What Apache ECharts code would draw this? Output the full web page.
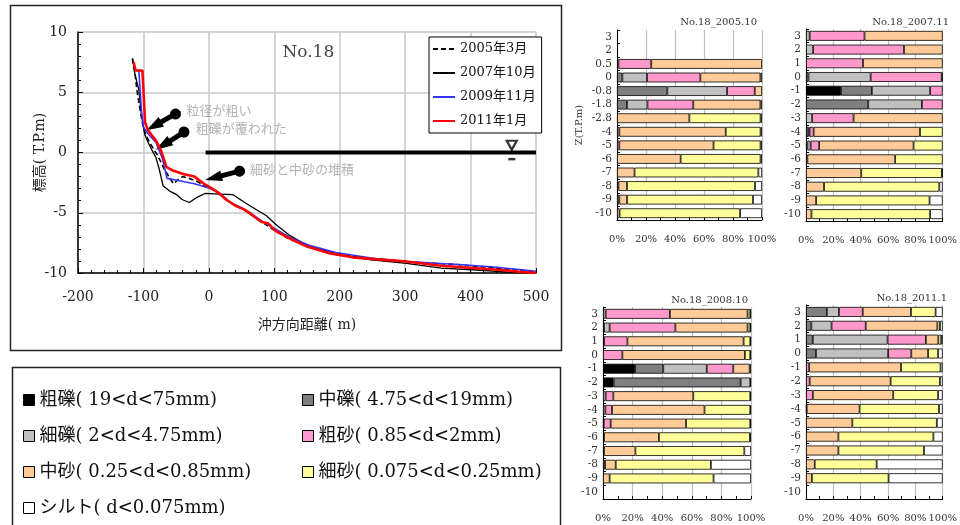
<!DOCTYPE html>
<html><head><meta charset="utf-8">
<script src="https://cdn.jsdelivr.net/npm/echarts@6/dist/echarts.min.js"></script>
<style>html,body{margin:0;padding:0;background:#fff}#c{width:960px;height:525px}</style>
</head><body><div id="c"></div>
<script>
const FONT = "'DejaVu Serif','Liberation Serif','Noto Sans CJK JP',serif";

// ---- Beach profile (No.18) ----
const profileNames = ['2005年3月', '2007年10月', '2009年11月', '2011年1月'];
const profile2005_03 = [[-117,7.8],[-113,6.6],[-110,5.2],[-105,3.5],[-100,2.0],[-95,1.3],[-88,0.6],[-80,-0.1],[-75,-0.6],[-68,-1.4],[-60,-2.1],[-54,-2.6],[-48,-2.3],[-40,-2.0],[-30,-2.15],[-18,-2.4],[-5,-2.8],[5,-3.05],[15,-3.4],[25,-3.85],[40,-4.4],[55,-4.8],[70,-5.35],[85,-5.9],[100,-6.45],[115,-6.95],[130,-7.35],[150,-7.75],[170,-8.05],[190,-8.3],[210,-8.5],[240,-8.75],[270,-8.9],[300,-9.05],[340,-9.2],[380,-9.3],[420,-9.5],[460,-9.7],[500,-9.9]];
const profile2007_10 = [[-116.5,7.8],[-113,6.5],[-107,5.2],[-103,3.1],[-98,1.5],[-93,0.85],[-87,0.2],[-81,-0.4],[-76,-1.35],[-70,-2.75],[-60,-3.2],[-49,-3.5],[-41,-3.9],[-30,-4.15],[-19,-3.75],[-6,-3.4],[16,-3.45],[37,-3.5],[59,-4.3],[88,-5.25],[102,-5.95],[124,-6.9],[150,-7.7],[194,-8.45],[248,-8.9],[302,-9.2],[355,-9.6],[409,-9.75],[463,-9.95],[500,-10]];
const profile2009_11 = [[-107,6.8],[-103,3.5],[-100,2.1],[-92,1.5],[-81,0.85],[-71,-0.5],[-64,-2.15],[-49,-2.3],[-22,-2.6],[0,-2.95],[16,-3.35],[32,-4.1],[59,-4.85],[80,-5.65],[97,-6.2],[124,-7.05],[156,-7.75],[194,-8.3],[248,-8.75],[302,-9.05],[382,-9.3],[436,-9.5],[500,-9.85]];
const profile2011_01 = [[-115,7.5],[-112,7.5],[-112,6.8],[-101.5,6.8],[-97.5,2.5],[-93,1.85],[-81,1.0],[-73,0.15],[-65,-1.2],[-55,-1.5],[-38,-1.8],[-22,-2.0],[-6,-2.65],[5,-3.0],[15,-3.35],[26,-3.9],[40,-4.4],[53,-4.7],[64,-5.1],[80,-5.75],[91,-5.9],[102,-6.5],[124,-7.15],[150,-7.8],[183,-8.35],[220,-8.7],[253,-8.85],[302,-9.05],[355,-9.4],[409,-9.6],[447,-9.75],[474,-9.9],[500,-10]];
const waterLevel = [[-5,0],[500,0]];
const waterMark = [[463,0.6]];
const waterMarkBar = [[463,-0.55]];
const stationLabel = ['No.18'];
const stationPos = [[152,8.3]];
const noteTexts = ['粒径が粗い', '粗礫が覆われた', '細砂と中砂の堆積'];
const notePos = [[-34,3.5],[-20,2.0],[63,-1.35]];
const arrowFrom = [[-51,3.2],[-38,1.7],[47,-1.55]];
const arrowTo = [[-84,2.2],[-70,0.6],[7,-2.1]];

// ---- Grain size composition (%) ----
const grainNames = ['粗礫','中礫','細礫','粗砂','中砂','細砂','シルト'];
const grainLabels = ['粗礫( 19<d<75mm)','中礫( 4.75<d<19mm)','細礫( 2<d<4.75mm)','粗砂( 0.85<d<2mm)','中砂( 0.25<d<0.85mm)','細砂( 0.075<d<0.25mm)','シルト( d<0.075mm)'];
const depths2005 = ['3','2','0.5','0','-0.8','-1.8','-2.8','-4','-5','-6','-7','-8','-9','-10'];
const depthsOther = ['3','2','1','0','-1','-2','-3','-4','-5','-6','-7','-8','-9','-10'];
// each row: [粗礫, 中礫, 細礫, 粗砂, 中砂, 細砂, シルト]
const grain2005_10 = [
  [0,0,0,0,0,0,0],
  [0,0,0,0,0,0,0],
  [0,1,0,22.6,76.4,0,0],
  [0,3.7,17,36.8,41.4,1.1,0],
  [0,34.7,41.2,19.1,5,0,0],
  [0,6.9,14.1,31.6,46.3,1.1,0],
  [0,0,0,0,49.9,49.1,1],
  [0,0,0,1.6,73.4,24,1],
  [0,0,0,1.6,65,32.4,1],
  [0,0,0,0,43.9,55.1,1],
  [0,0,0,0,12.1,85.4,2.5],
  [0,1,0,0,5.9,88.3,4.8],
  [0,1.6,0,0,5.3,86.9,6.2],
  [0,0,0,0,1.8,83.1,15.1]
];
const grain2007_11 = [
  [0,0,2.7,40.1,57.2,0,0],
  [0,0,5.2,66.5,28.3,0,0],
  [0,0,0,41.7,58.3,0,0],
  [0,1.8,45.5,52,0.7,0,0],
  [25.6,22.6,42.6,9.2,0,0,0],
  [0,45.5,39.3,15.2,0,0,0],
  [0,0,4.5,30.3,65.2,0,0],
  [0,1.8,0.8,3,77.8,16.6,0],
  [0,1,2.4,6.2,69.1,21.3,0],
  [0,1,0,0,64.2,34.8,0],
  [0,0,0,0,40.4,59,0.6],
  [0,0,0,0,13.2,84.3,2.5],
  [0,0,0,0,7.4,83,9.6],
  [0,0,0,0,4,86.8,9.2]
];
const grain2008_10 = [
  [0,0,1.8,43.4,52.5,1.8,0.5],
  [0,0.7,3.8,44.4,48.8,1.8,0.5],
  [0,0.7,0,15.8,78.5,4.5,0.5],
  [0,0,0,13.1,82.8,3.6,0.5],
  [21.7,19,29.4,17.9,11.1,0.9,0],
  [7.2,85.8,6.5,0.5,0,0,0],
  [0,0,1.8,5.2,54,38.5,0.5],
  [0,0,1.6,4.5,62.5,30.9,0.5],
  [0,0.5,0,4.7,50.9,43.4,0.5],
  [0,0,0,0.7,37.1,61.5,0.7],
  [0,0.7,0,0,21.2,73.6,4.5],
  [0,1.4,0,0,7.2,64.3,27.1],
  [0,0,0,0,4.5,70.2,25.3],
  [0,0,0,0,0,0,0]
];
const grain2011_01 = [
  [0,15.3,8.8,17.4,35.3,18,5.2],
  [0,3.9,14.8,25,52.4,1.9,2],
  [0,5,54.7,28,9.1,2.1,1.1],
  [0,7.3,52.8,16.9,12.3,7.3,3.4],
  [0,0,0,2.3,67.2,28.9,1.6],
  [0,0,0,2.7,59.2,36.1,2],
  [0,0,0,5,58.8,32.8,3.4],
  [0,0,0,0.5,38.7,58.1,2.7],
  [0,0,0,0,33.9,61.8,4.3],
  [0,0,0,0,23.7,69.5,6.8],
  [0,0,0,0,23.7,62.6,13.7],
  [0,0,0,0,6.4,45.3,48.3],
  [0,0,0,0,4.3,56.1,39.6],
  [0,0,0,0,0,0,0]
];
const barTitles = ['No.18_2005.10','No.18_2007.11','No.18_2008.10','No.18_2011.1'];

// ---- styles / layout ----
const grainColors = ['#000000','#7f7f7f','#c0c0c0','#ff99cc','#ffcc99','#ffff99','#ffffff'];
const barLayouts = [
  {grid:{left:617, top:30, width:145, height:190}, cats:depths2005, rows:grain2005_10, yName:'Z(T.P.m)', titleRight:198, titleTop:12},
  {grid:{left:806, top:29, width:148, height:192}, cats:depthsOther, rows:grain2007_11, yName:'', titleRight:6, titleTop:12},
  {grid:{left:603, top:307, width:148, height:192}, cats:depthsOther, rows:grain2008_10, yName:'', titleRight:207, titleTop:290},
  {grid:{left:806, top:305, width:146, height:194}, cats:depthsOther, rows:grain2011_01, yName:'', titleRight:8, titleTop:288}
];
const labelMap = {}; grainNames.forEach((n,i)=>labelMap[n]=grainLabels[i]);

const chart = echarts.init(document.getElementById('c'), null, {renderer:'canvas'});

const grids = [{left:78, top:32, width:458, height:241}];
const xAxes = [{
  gridIndex:0, type:'value', min:-200, max:500, interval:100,
  axisLine:{show:true, onZero:false, lineStyle:{color:'#000', width:1.5}},
  axisTick:{show:true, inside:true, length:5, lineStyle:{color:'#000'}},
  minorTick:{show:true, splitNumber:5, length:3, lineStyle:{color:'#000'}},
  splitLine:{show:true, lineStyle:{color:'#c8c8c8', width:1.5}},
  axisLabel:{fontFamily:FONT, fontSize:14, color:'#222', margin:17},
  name:'沖方向距離( m)', nameLocation:'middle', nameGap:45, nameMoveOverlap:false,
  nameTextStyle:{fontFamily:FONT, fontSize:14, color:'#222'}
}];
const yAxes = [{
  gridIndex:0, type:'value', min:-10, max:10, interval:5,
  axisLine:{show:true, onZero:false, lineStyle:{color:'#000', width:1.5}},
  axisTick:{show:true, inside:true, length:5, lineStyle:{color:'#000'}},
  minorTick:{show:true, splitNumber:5, length:3, lineStyle:{color:'#000'}},
  splitLine:{show:true, lineStyle:{color:'#c8c8c8', width:1.5}},
  axisLabel:{fontFamily:FONT, fontSize:14, color:'#222', margin:11},
  name:'標高( T.P.m)', nameLocation:'middle', nameGap:31, nameRotate:90, nameMoveOverlap:false,
  nameTextStyle:{fontFamily:FONT, fontSize:14, color:'#222'}
}];
const titles = [];
const series = [];

const profiles = [profile2005_03, profile2007_10, profile2009_11, profile2011_01];
const profileStyles = [
  {color:'#000', width:1.6, type:[5,3]},
  {color:'#000', width:1.3, type:'solid'},
  {color:'#3333ff', width:1.6, type:'solid'},
  {color:'#ff0000', width:2.6, type:'solid'}
];
profiles.forEach((p,i)=>{
  series.push({type:'line', name:profileNames[i], xAxisIndex:0, yAxisIndex:0, data:p,
    symbol:'none', showSymbol:false, lineStyle:profileStyles[i], itemStyle:{color:profileStyles[i].color},
    animation:false, silent:true, z:3+i});
});
series.push({type:'line', name:'water', xAxisIndex:0, yAxisIndex:0, data:waterLevel, symbol:'none',
  lineStyle:{color:'#000', width:4}, animation:false, silent:true, z:3,
  markLine:{silent:true, symbol:['circle','triangle'], symbolSize:[11,17], animation:false,
    lineStyle:{color:'#000', width:5, type:'solid'}, label:{show:false},
    data: arrowFrom.map((f,i)=>[{coord:f},{coord:arrowTo[i]}])}
});
series.push({type:'scatter', name:'wm', xAxisIndex:0, yAxisIndex:0, data:waterMark, symbol:'triangle',
  symbolRotate:180, symbolSize:[10,9], itemStyle:{color:'#fff', borderColor:'#000', borderWidth:2.2}, silent:true, animation:false, z:8});
series.push({type:'scatter', name:'wmb', xAxisIndex:0, yAxisIndex:0, data:waterMarkBar, symbol:'rect',
  symbolSize:[7,2.5], itemStyle:{color:'#000'}, silent:true, animation:false, z:8});
series.push({type:'scatter', name:'notes', xAxisIndex:0, yAxisIndex:0, symbolSize:0, silent:true, animation:false,
  data: notePos.map((p,i)=>({value:p, label:{formatter:noteTexts[i]}})),
  label:{show:true, position:'right', distance:0, color:'#a0a0a0', fontFamily:"'Noto Sans CJK JP',sans-serif", fontSize:13}, z:9});
series.push({type:'scatter', name:'station', xAxisIndex:0, yAxisIndex:0, symbolSize:0, silent:true, animation:false,
  data: stationPos.map((p,i)=>({value:p, label:{formatter:stationLabel[i]}})),
  label:{show:true, position:'inside', color:'#111', fontFamily:FONT, fontSize:17}, z:9});

barLayouts.forEach((b,ci)=>{
  const gi = ci+1;
  grids.push(b.grid);
  xAxes.push({gridIndex:gi, type:'value', min:0, max:100, interval:20,
    axisLine:{show:true, lineStyle:{color:'#000'}},
    axisTick:{show:true, inside:true, length:3, lineStyle:{color:'#000'}},
    minorTick:{show:true, splitNumber:2, length:3, lineStyle:{color:'#000'}},
    splitLine:{show:true, lineStyle:{color:'#c0c0c0', width:1.2}},
    axisLabel:{formatter:'{value}%', fontFamily:FONT, fontSize:10, color:'#333', margin:14}});
  yAxes.push({gridIndex:gi, type:'category', data:b.cats, inverse:true,
    axisLine:{show:true, lineStyle:{color:'#000'}},
    axisTick:{show:true, inside:true, length:3, lineStyle:{color:'#000'}},
    splitLine:{show:false},
    axisLabel:{interval:0, fontFamily:FONT, fontSize:10.5, color:'#333', margin:5},
    name:b.yName, nameLocation:'middle', nameRotate:90, nameGap:33, nameMoveOverlap:false,
    nameTextStyle:{fontFamily:FONT, fontSize:10, color:'#333'}});
  titles.push({text:barTitles[ci], right:b.titleRight, top:b.titleTop,
    textStyle:{fontFamily:FONT, fontSize:10, fontWeight:'normal', color:'#333'}});
  grainNames.forEach((g,k)=>{
    series.push({type:'bar', name:g, xAxisIndex:gi, yAxisIndex:gi, stack:'s'+ci, barWidth:'72%',
      data: b.rows.map(r => r[k] > 0 ? r[k] : '-'),
      itemStyle:{color:grainColors[k], borderColor:'#000', borderWidth:0.8},
      silent:true, animation:false});
  });
});

const legendText = {fontFamily:FONT, fontSize:18, color:'#111', lineHeight:18};
chart.setOption({
  backgroundColor:'#fff',
  animation:false,
  title: titles,
  grid: grids,
  xAxis: xAxes,
  yAxis: yAxes,
  legend: [
    {data:profileNames, left:429, top:37, orient:'vertical', itemWidth:22, itemHeight:14, itemGap:8,
     padding:[4,6,4,3], borderColor:'#000', borderWidth:1, backgroundColor:'#fff', selectedMode:false,
     itemStyle:{color:'rgba(0,0,0,0)', borderColor:'rgba(0,0,0,0)', borderWidth:0, opacity:0},
     textStyle:{fontFamily:FONT, fontSize:13, color:'#111', lineHeight:16}},
    {data:['粗礫','細礫','中砂','シルト'], left:18, top:386, orient:'vertical', icon:'rect', itemWidth:11, itemHeight:11,
     itemGap:18, selectedMode:false, formatter:n=>labelMap[n], textStyle:legendText,
     itemStyle:{borderColor:'#000', borderWidth:1}},
    {data:['中礫','粗砂','細砂'], left:297, top:386, orient:'vertical', icon:'rect', itemWidth:11, itemHeight:11,
     itemGap:18, selectedMode:false, formatter:n=>labelMap[n], textStyle:legendText,
     itemStyle:{borderColor:'#000', borderWidth:1}}
  ],
  graphic: [
    {type:'rect', shape:{x:10.5, y:5.5, width:551, height:345}, style:{fill:null, stroke:'#222', lineWidth:1.5}, silent:true, z:-1},
    {type:'rect', shape:{x:12.5, y:367.5, width:548, height:170}, style:{fill:null, stroke:'#222', lineWidth:1.5}, silent:true, z:-1}
  ],
  series: series
});
</script></body></html>
